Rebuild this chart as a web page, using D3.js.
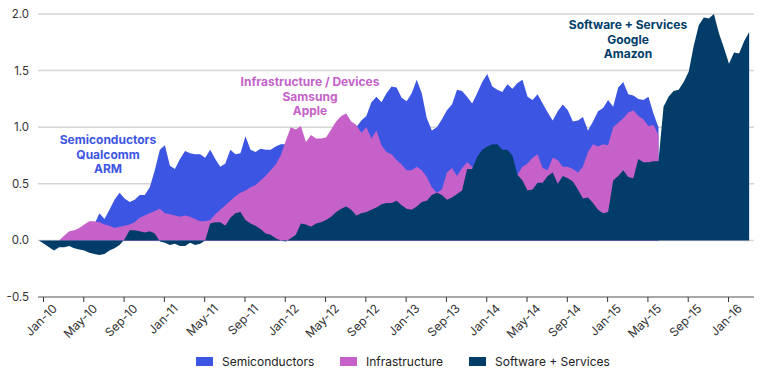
<!DOCTYPE html>
<html>
<head>
<meta charset="utf-8">
<script src="https://cdn.jsdelivr.net/npm/d3@7/dist/d3.min.js"></script>
<style>
  body { margin: 0; background: #fff; }
  svg { display: block; font-family: Inter, "Open Sans", sans-serif; }
</style>
</head>
<body>
<div id="chart"></div>
<script>

// tick labels on the category axis (every 4 months, May-13 is not shown in the source)
var tickLabels = ['Jan-10','May-10','Sep-10','Jan-11','May-11','Sep-11','Jan-12','May-12','Sep-12',
                  'Jan-13','Sep-13','Jan-14','May-14','Sep-14','Jan-15','May-15','Sep-15','Jan-16'];
var yTicks = [-0.5, 0, 0.5, 1.0, 1.5, 2.0];

// series, one value per ~1/8 of a label step
var semiconductors = [
  0, 0, 0, 0, 0, 0.02, 0.04, 0.06, 0.08, 0.10, 0.12, 0.14,
  0.24, 0.19, 0.27, 0.36, 0.42, 0.37, 0.34, 0.36, 0.40, 0.40, 0.47, 0.62, 0.80, 0.84, 0.66, 0.63,
  0.72, 0.79, 0.77, 0.76, 0.76, 0.73, 0.80, 0.72, 0.65, 0.68, 0.80, 0.76, 0.77, 0.92, 0.80, 0.78,
  0.81, 0.80, 0.80, 0.83, 0.85, 0.85, 0.90, 0.92, 0.95, 0.85, 0.90, 0.88, 0.88, 0.90, 0.95, 1.00,
  1.02, 1.00, 1.00, 1.00, 1.06, 1.10, 1.22, 1.27, 1.22, 1.30, 1.36, 1.35, 1.26, 1.23, 1.30, 1.42,
  1.30, 1.08, 0.97, 1.00, 1.07, 1.15, 1.20, 1.33, 1.32, 1.27, 1.21, 1.30, 1.40, 1.47, 1.36, 1.33,
  1.31, 1.38, 1.34, 1.39, 1.42, 1.27, 1.24, 1.29, 1.21, 1.13, 1.06, 1.14, 1.20, 1.15, 1.05, 1.06,
  1.09, 0.97, 1.05, 1.14, 1.17, 1.24, 1.18, 1.35, 1.40, 1.29, 1.28, 1.25, 1.24, 1.27, 1.12, 1.00
];
var infrastructure = [
  0, 0, 0, 0, 0, 0.04, 0.08, 0.09, 0.11, 0.14, 0.17, 0.17,
  0.16, 0.14, 0.13, 0.11, 0.12, 0.13, 0.14, 0.16, 0.20, 0.22, 0.24, 0.26, 0.28, 0.24, 0.23, 0.22,
  0.21, 0.22, 0.21, 0.19, 0.17, 0.17, 0.18, 0.23, 0.27, 0.31, 0.35, 0.39, 0.42, 0.44, 0.47, 0.49,
  0.53, 0.57, 0.62, 0.67, 0.75, 0.88, 1.00, 0.98, 1.01, 0.87, 0.93, 0.90, 0.90, 0.91, 0.98, 1.05,
  1.10, 1.12, 1.05, 1.02, 0.95, 1.00, 0.90, 0.97, 0.84, 0.78, 0.76, 0.71, 0.67, 0.62, 0.62, 0.65,
  0.62, 0.56, 0.47, 0.42, 0.45, 0.60, 0.64, 0.57, 0.64, 0.69, 0.65, 0.60, 0.60, 0.60, 0.60, 0.60,
  0.60, 0.58, 0.58, 0.58, 0.65, 0.68, 0.73, 0.76, 0.64, 0.62, 0.73, 0.71, 0.65, 0.65, 0.63, 0.60,
  0.65, 0.78, 0.85, 0.83, 0.85, 0.84, 1.00, 1.04, 1.08, 1.13, 1.15, 1.10, 1.07, 1.01, 1.02, 0.93
];
var software = [
  0, -0.03, -0.06, -0.09, -0.06, -0.06, -0.05, -0.07, -0.08, -0.09, -0.11, -0.12,
  -0.13, -0.12, -0.09, -0.07, -0.04, 0.01, 0.09, 0.09, 0.08, 0.07, 0.08, 0.06, -0.01, -0.02, -0.04, -0.03,
  -0.05, -0.05, -0.02, -0.04, -0.03, 0.00, 0.15, 0.16, 0.16, 0.13, 0.20, 0.24, 0.25, 0.18, 0.15, 0.13,
  0.10, 0.06, 0.05, 0.02, 0.00, -0.01, 0.02, 0.05, 0.15, 0.14, 0.12, 0.15, 0.16, 0.18, 0.21, 0.25,
  0.28, 0.30, 0.27, 0.22, 0.24, 0.25, 0.27, 0.29, 0.32, 0.33, 0.33, 0.35, 0.31, 0.28, 0.27, 0.30,
  0.34, 0.35, 0.40, 0.42, 0.40, 0.36, 0.38, 0.41, 0.44, 0.63, 0.63, 0.74, 0.80, 0.83, 0.85, 0.85,
  0.80, 0.80, 0.75, 0.58, 0.53, 0.44, 0.45, 0.51, 0.51, 0.57, 0.60, 0.50, 0.57, 0.55, 0.52, 0.45,
  0.37, 0.38, 0.33, 0.27, 0.24, 0.25, 0.53, 0.57, 0.62, 0.56, 0.55, 0.72, 0.69, 0.69, 0.70, 0.70,
  1.18, 1.27, 1.32, 1.33, 1.40, 1.49, 1.72, 1.90, 1.97, 1.96, 2.00, 1.83, 1.70, 1.56, 1.66, 1.65,
  1.76, 1.84
];

var seriesNames = ['Semiconductors', 'Infrastructure', 'Software + Services'];
var seriesColors = ['#3d55e3', '#c561c9', '#023d69'];
var noteLines = [
  ['Semiconductors', 'Qualcomm', 'ARM'],
  ['Infrastructure / Devices', 'Samsung', 'Apple'],
  ['Software + Services', 'Google', 'Amazon']
];

var width = 770, height = 373;
var left = 38, right = 754;
var step = 0.125, start = -0.1;   // data spacing in label-step units

var svg = d3.select('#chart').append('svg')
    .attr('width', width)
    .attr('height', height);

var x = d3.scaleLinear().domain([0, tickLabels.length - 1]).range([43, 728]);
var y = d3.scaleLinear().domain([-0.5, 2.0]).range([297, 14]);

// gridlines
svg.append('g').selectAll('line')
    .data(yTicks.filter(function(d) { return d > -0.5; }))
    .enter().append('line')
      .attr('x1', left).attr('x2', right)
      .attr('y1', function(d) { return y(d); })
      .attr('y2', function(d) { return y(d); })
      .attr('stroke', '#d6d6d6')
      .attr('stroke-width', 1.5);

// y labels
svg.append('g').selectAll('text')
    .data(yTicks)
    .enter().append('text')
      .attr('x', 29)
      .attr('y', function(d) { return y(d); })
      .attr('dy', '0.35em')
      .attr('text-anchor', 'end')
      .attr('font-size', 11.5)
      .attr('fill', '#333')
      .text(function(d) { return d.toFixed(1); });

// overlapping areas, back to front
var allSeries = [semiconductors, infrastructure, software];
var area = d3.area()
    .x(function(d, i) { return x(start + i * step); })
    .y0(y(0))
    .y1(function(d) { return y(d); });

svg.append('g').selectAll('path')
    .data(allSeries)
    .enter().append('path')
      .attr('d', function(d) { return area(d); })
      .attr('fill', function(d, i) { return seriesColors[i]; });

// bottom axis
var xAxis = d3.axisBottom(x)
    .tickValues(d3.range(tickLabels.length))
    .tickFormat(function(d) { return tickLabels[d]; })
    .tickSize(5)
    .tickSizeOuter(0);

var gx = svg.append('g')
    .attr('transform', 'translate(0,' + y(-0.5) + ')')
    .call(xAxis);
gx.select('.domain').remove();
gx.insert('line', ':first-child')
    .attr('x1', left).attr('x2', right)
    .attr('stroke', '#a8a8a8').attr('stroke-width', 2);
gx.selectAll('.tick line').attr('stroke', '#333');
gx.selectAll('.tick text')
    .attr('font-size', 12)
    .attr('font-family', 'Inter, sans-serif')
    .attr('fill', '#333')
    .attr('text-anchor', 'end')
    .attr('transform', 'translate(5,3) rotate(-45)')
    .attr('dy', '0.6em')
    .attr('y', 6);

// annotations
var notePos = [[108, 140], [310, 82], [628, 25]];
noteLines.forEach(function(lines, k) {
  var t = svg.append('text')
      .attr('text-anchor', 'middle')
      .attr('font-size', 12)
      .attr('font-weight', 700)
      .attr('fill', seriesColors[k]);
  lines.forEach(function(s, j) {
    t.append('tspan')
      .attr('x', notePos[k][0])
      .attr('y', notePos[k][1] + j * 14.5)
      .attr('dy', '0.35em')
      .text(s);
  });
});

// legend
var legendX = [196, 340, 469];
var lg = svg.append('g').selectAll('g')
    .data(seriesNames)
    .enter().append('g')
      .attr('transform', function(d, i) { return 'translate(' + legendX[i] + ',357)'; });
lg.append('rect')
    .attr('width', 17).attr('height', 9)
    .attr('fill', function(d, i) { return seriesColors[i]; });
lg.append('text')
    .attr('x', 26).attr('y', 4.5)
    .attr('dy', '0.35em')
    .attr('font-size', 12)
    .attr('fill', '#222')
    .text(function(d) { return d; });

</script>
</body>
</html>
